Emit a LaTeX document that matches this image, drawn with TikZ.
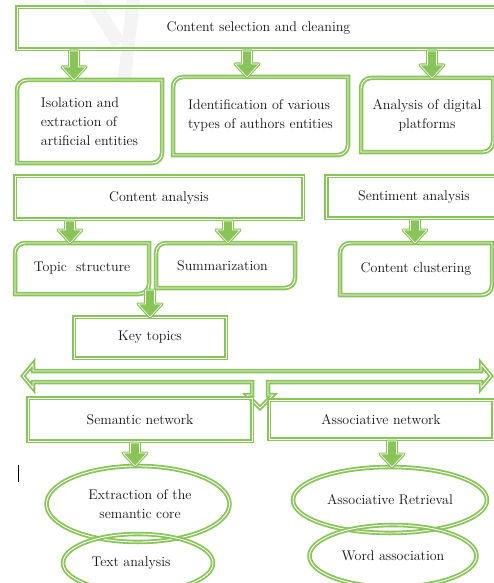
\documentclass[tikz,border=0pt]{standalone}
\usepackage{xcolor}
\usepackage{tikz}
\usetikzlibrary{calc,shapes.geometric}
\definecolor{leaf}{RGB}{136,196,88}
\definecolor{ink}{RGB}{20,20,20}

% box rim with top-left and bottom-right corners rounded
\newcommand{\diagrim}[1]{%
  \draw[rim] (#1.south west) -- ([yshift=-10pt]#1.north west)
    arc[start angle=180, end angle=90, radius=10pt] -- (#1.north east)
    -- ([yshift=10pt]#1.south east)
    arc[start angle=0, end angle=-90, radius=10pt] -- cycle;}

% block arrow from a box down to the next one (source, target, tip shift)
\newcommand{\fatarrow}[3]{%
  \path ([xshift=#3]#2.north) coordinate (tip) (tip |- #1.south) coordinate (tail);
  \draw[fat] ([xshift=-4.5pt,yshift=-2pt]tail) -- ([xshift=-4.5pt,yshift=13pt]tip)
    -- ([xshift=-12pt,yshift=13pt]tip) -- (tip) -- ([xshift=12pt,yshift=13pt]tip)
    -- ([xshift=4.5pt,yshift=13pt]tip) -- ([xshift=4.5pt,yshift=-2pt]tail) -- cycle;}

\begin{document}
\begin{tikzpicture}[
  x=1pt, y=1pt,
  font=\fontsize{14}{19}\selectfont, text=ink,
  rim/.style={draw=leaf, line width=1.8pt, double=white, double distance=0.9pt},
  box/.style={rectangle, inner sep=0pt, outer sep=0pt, align=center},
  sqbox/.style={box, rim},
  dgbox/.style={box},
  oval/.style={ellipse, rim, inner sep=0pt, outer sep=0pt, align=center},
  fat/.style={draw=leaf, fill=leaf, line width=1.2pt, double=white,
    double distance=0.6pt, line join=round}
]
\useasboundingbox (0,0) rectangle (494,-583);

% faint watermark behind the boxes
\draw[gray!9, line width=14pt] (88,6) -- (119,-44);
\draw[gray!9, line width=13pt] (134,6) -- (124,-82);

% Selection stage.
\node[sqbox, minimum width=483pt, minimum height=42pt] (sel) at (258.5,-28) {Content selection and cleaning};

\node[dgbox, minimum width=145pt, minimum height=83pt, align=left] (iso) at (89.5,-121.5)
  {Isolation and\\extraction of\\artificial entities};
\node[dgbox, minimum width=175pt, minimum height=78pt, align=left] (ident) at (260.5,-116)
  {\raisebox{3pt}{Identification of various}\\\raisebox{3pt}{types of authors entities}};
\node[dgbox, minimum width=132pt, minimum height=74pt] (anal) at (427,-115)
  {Analysis of digital\\platforms};
\diagrim{iso}
\diagrim{ident}
\diagrim{anal}

\fatarrow{sel}{iso}{-15.5pt}
\fatarrow{sel}{ident}{-13.5pt}
\fatarrow{sel}{anal}{5pt}

% Analysis stage.
\node[sqbox, minimum width=288pt, minimum height=43pt] (conta) at (159,-197.5) {Content analysis};
\node[sqbox, minimum width=175pt, minimum height=42pt] (senti) at (414,-197) {Sentiment analysis};

\node[dgbox, minimum width=134pt, minimum height=51pt] (topic) at (82,-268.5) {Topic~ structure};
\node[dgbox, minimum width=139pt, minimum height=45pt] (summ) at (225.5,-265.5) {\hspace*{-6pt}Summarization};
\node[dgbox, minimum width=152pt, minimum height=52pt] (clust) at (416,-269) {Content clustering};
\diagrim{topic}
\diagrim{summ}
\diagrim{clust}

\fatarrow{conta}{topic}{-12pt}
\fatarrow{conta}{summ}{2.5pt}
\fatarrow{senti}{clust}{-1pt}

\node[sqbox, minimum width=152pt, minimum height=41pt] (key) at (150,-337.5) {Key topics};
\fatarrow{summ}{key}{0pt}

% Two-way bar with the stub pointing down between the networks.
\coordinate (barl) at (23,-376);
\coordinate (barr) at (491,-376);
\coordinate (stub) at (260,-408);
\draw[rim] (barl) -- ($(barl)+(10,12)$) -- ($(barl)+(10,5)$) -- ($(barr)+(-10,5)$)
  -- ($(barr)+(-10,12)$) -- (barr) -- ($(barr)+(-10,-12)$) -- ($(barr)+(-10,-6)$)
  -- ($(stub)+(8,26)$) -- ($(stub)+(8,13)$) -- ($(stub)+(13,13)$) -- (stub)
  -- ($(stub)+(-13,13)$) -- ($(stub)+(-8,13)$) -- ($(stub)+(-8,26)$)
  -- ($(barl)+(10,-6)$) -- ($(barl)+(10,-12)$) -- cycle;

% Network stage.
\node[sqbox, minimum width=224pt, minimum height=43pt] (semn) at (140,-419.5) {Semantic network};
\node[sqbox, minimum width=224pt, minimum height=39pt] (assn) at (381,-419.5) {Associative network};

\node[oval, minimum width=183pt, minimum height=76pt] (core) at (138,-504)
  {\raisebox{-6pt}{\hspace*{4pt}Extraction of the}\\\raisebox{-6pt}{\hspace*{4pt}semantic core}};
\node[oval, minimum width=150pt, minimum height=58pt] (texta) at (138,-563) {\hspace*{-14pt}Text analysis};
\node[oval, minimum width=194pt, minimum height=66pt] (retr) at (390,-500) {Associative Retrieval};
\node[oval, minimum width=167pt, minimum height=62pt] (worda) at (393,-556) {Word association};

\fatarrow{semn}{core}{-3pt}
\fatarrow{assn}{retr}{2pt}

% stray text cursor left in the figure
\draw[black, line width=0.8pt] (18,-465) -- (18,-482);

\end{tikzpicture}
\end{document}
